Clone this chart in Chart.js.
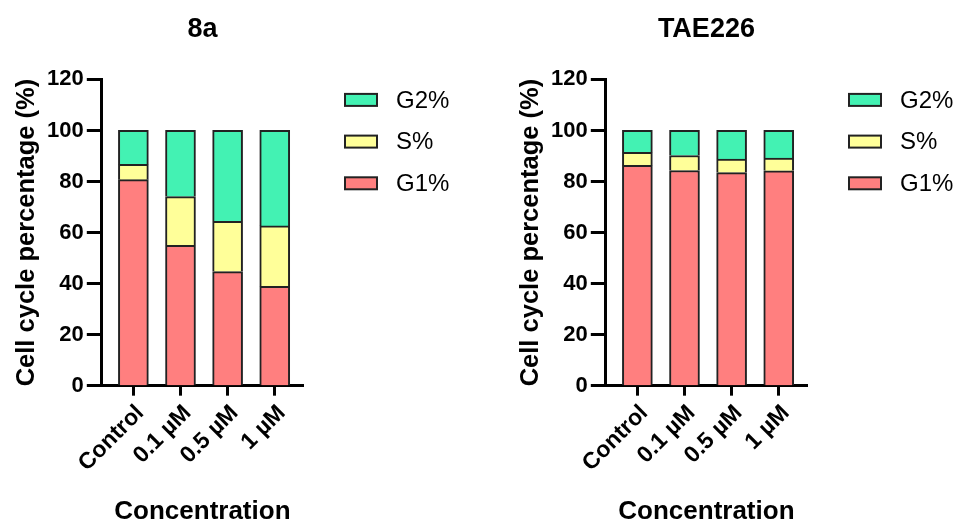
<!DOCTYPE html>
<html>
<head>
<meta charset="utf-8">
<script src="https://cdn.jsdelivr.net/npm/chart.js@4.4.1/dist/chart.umd.min.js"></script>
<style>
  body { margin: 0; background: #fff; }
  .box { position: absolute; top: 0; width: 450px; height: 522px; }
</style>
</head>
<body>
<div class="box" style="left:0"><canvas id="chart8a"></canvas></div>
<div class="box" style="left:504px"><canvas id="chartTAE"></canvas></div>
<script>
const categories = ['Control', '0.1 µM', '0.5 µM', '1 µM'];
const yTicks = [0, 20, 40, 60, 80, 100, 120];

// 8a
const g1_8a = [80.7, 55.0, 44.7, 38.9];
const s_8a  = [6.0, 19.1, 19.7, 23.7];
const g2_8a = [13.3, 25.9, 35.6, 37.4];

// TAE226
const g1_tae = [86.3, 84.3, 83.5, 84.2];
const s_tae  = [5.1, 5.9, 5.3, 5.0];
const g2_tae = [8.6, 9.8, 11.2, 10.8];

const colG1 = '#FF7F7F';
const colS = '#FFFF99';
const colG2 = '#43F2B3';

Chart.defaults.font.family = '"Liberation Sans", Arial, sans-serif';
Chart.defaults.color = '#000';

// legend drawn by hand, GraphPad style (G2 on top)
const sideLegend = {
  id: 'sideLegend',
  afterDraw(chart) {
    const {ctx, chartArea} = chart;
    const sets = chart.data.datasets.slice().reverse();
    ctx.save();
    ctx.font = '24px "Liberation Sans", Arial, sans-serif';
    ctx.textBaseline = 'middle';
    sets.forEach((ds, i) => {
      const x = chartArea.right + 42;
      const y = chartArea.top + 20.5 + i * 41.7;
      ctx.fillStyle = ds.backgroundColor;
      ctx.fillRect(x, y - 6, 32, 12);
      ctx.lineWidth = 2;
      ctx.strokeStyle = '#222';
      ctx.strokeRect(x, y - 6, 32, 12);
      ctx.fillStyle = '#000';
      ctx.fillText(ds.label, x + 51, y + 1);
    });
    ctx.restore();
  }
};

function toPoints(arr) {
  return arr.map((v, i) => ({x: i + 1, y: v}));
}

function makeChart(id, title, g1, s, g2) {
  const bar = {barThickness: 30, borderWidth: 2, borderColor: '#222'};
  new Chart(document.getElementById(id), {
    type: 'bar',
    data: {
      datasets: [
        {label: 'G1%', data: toPoints(g1), backgroundColor: colG1, ...bar},
        {label: 'S%', data: toPoints(s), backgroundColor: colS, ...bar},
        {label: 'G2%', data: toPoints(g2), backgroundColor: colG2, ...bar}
      ]
    },
    plugins: [sideLegend],
    options: {
      responsive: true,
      maintainAspectRatio: false,
      animation: false,
      layout: {padding: {left: 11.5, right: 147, top: 0, bottom: 0}},
      plugins: {
        legend: {display: false},
        tooltip: {enabled: false},
        title: {
          display: true,
          text: title,
          fullSize: false,
          font: {size: 27, weight: 'bold', lineHeight: 1.2},
          padding: {top: 13, bottom: 34}
        }
      },
      scales: {
        x: {
          type: 'linear',
          stacked: true,
          offset: false,
          bounds: 'data',
          min: 0.33,
          max: 4.6,
          afterBuildTicks: sc => { sc.ticks = categories.map((c, i) => ({value: i + 1})); },
          grid: {offset: false, drawOnChartArea: false, tickLength: 10, tickWidth: 3, tickColor: '#000'},
          border: {color: '#000', width: 3},
          ticks: {
            callback: v => categories[v - 1],
            minRotation: 45,
            maxRotation: 45,
            padding: 4,
            labelOffset: 7,
            font: {size: 23, weight: 'bold'}
          },
          title: {
            display: true,
            text: 'Concentration',
            font: {size: 26, weight: 'bold', lineHeight: 1},
            padding: {top: 18, bottom: -3}
          }
        },
        y: {
          stacked: true,
          min: 0,
          max: 120,
          afterBuildTicks: sc => { sc.ticks = yTicks.map(v => ({value: v})); },
          grid: {drawOnChartArea: false, tickLength: 15, tickWidth: 3, tickColor: '#000'},
          border: {color: '#000', width: 3},
          ticks: {padding: 3, font: {size: 22, weight: 'bold'}},
          title: {
            display: true,
            text: 'Cell cycle percentage (%)',
            font: {size: 25.5, weight: 'bold', lineHeight: 1.2},
            padding: {top: 0, bottom: 2}
          }
        }
      }
    }
  });
}

makeChart('chart8a', '8a', g1_8a, s_8a, g2_8a);
makeChart('chartTAE', 'TAE226', g1_tae, s_tae, g2_tae);
</script>
</body>
</html>
